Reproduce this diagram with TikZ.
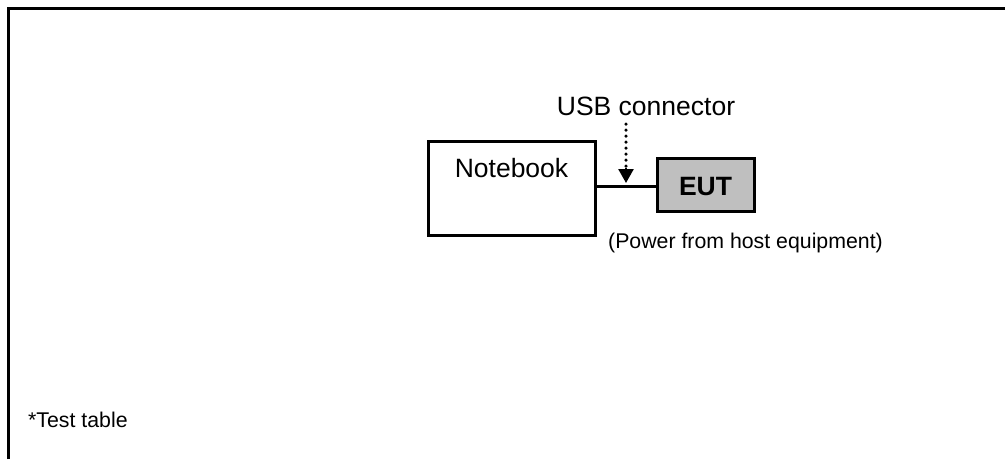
\documentclass[tikz,border=0pt]{standalone}
\usepackage{fontspec}
\setmainfont{Liberation Sans}
\usetikzlibrary{arrows.meta}
\begin{document}
\begin{tikzpicture}[x=1pt,y=-1pt,
  frame/.style={line width=3pt},
  box/.style={draw,line width=3pt,inner sep=0pt},
  lbl/.style={inner sep=0pt,font=\fontsize{26.5}{30}\selectfont},
  small/.style={inner sep=0pt,font=\fontsize{21.3}{25}\selectfont}]
\useasboundingbox (0,0) rectangle (1005,459);
\draw[frame] (8.5,459) -- (8.5,8.5) -- (1005,8.5);
\node[box,minimum width=167pt,minimum height=94pt] (nb) at (511.5,188) {};
\node[lbl] (nbt) at (511.5,168) {Notebook};
\node[box,fill=black!25,minimum width=97pt,minimum height=53pt] (eut) at (705.5,184.5) {};
\node[inner sep=0pt,font=\bfseries\fontsize{26.5}{30}\selectfont] at (705.5,187) {EUT};
\coordinate (c1) at (nb.east |- 0,186);
\draw[line width=3pt] (c1) -- (c1 -| eut.west);
\node[lbl] (usb) at (646,106) {USB connector};
\coordinate (tip) at (626,183);
\draw[line width=3.5pt,line cap=round,dash pattern=on 0pt off 6pt] (626,124) -- (626,166);
\draw[line width=2.5pt,-{Triangle[length=14pt,width=15pt]}] (626,168) -- (tip);
\node[small] (pw) at (745.5,243) {(Power from host equipment)};
\node[small,anchor=west] (tt) at (28,420) {*Test table};
\end{tikzpicture}
\end{document}
